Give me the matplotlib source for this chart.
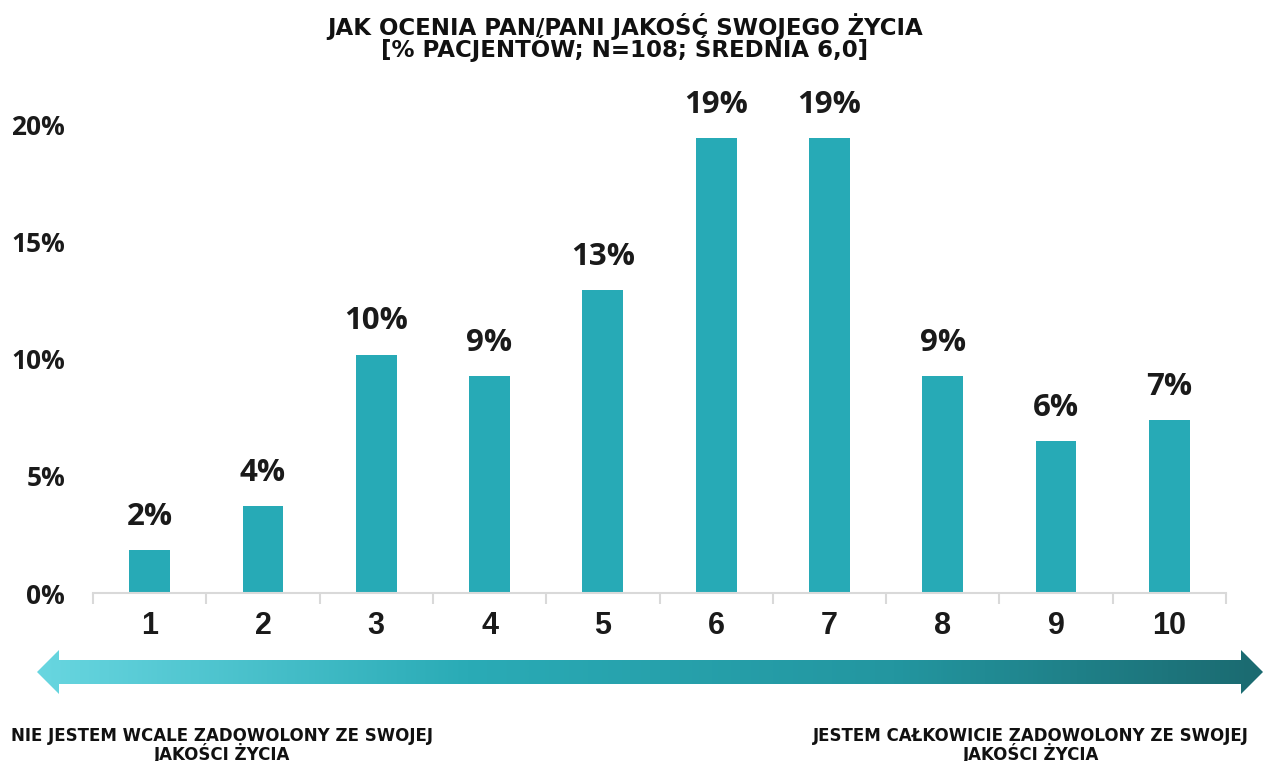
import matplotlib
matplotlib.use("Agg")
import matplotlib.pyplot as plt
import numpy as np
from matplotlib.patches import Polygon
from matplotlib.colors import LinearSegmentedColormap

categories = ["1", "2", "3", "4", "5", "6", "7", "8", "9", "10"]
values = [1.85, 3.70, 10.19, 9.26, 12.96, 19.44, 19.44, 9.26, 6.48, 7.41]
labels = ["2%", "4%", "10%", "9%", "13%", "19%", "19%", "9%", "6%", "7%"]
yticks = [0, 5, 10, 15, 20]
ytick_labels = ["0%", "5%", "10%", "15%", "20%"]
title_lines = ["JAK OCENIA PAN/PANI JAKOŚĆ SWOJEGO ŻYCIA", "[% PACJENTÓW; N=108; ŚREDNIA 6,0]"]
left_note = ["NIE JESTEM WCALE ZADOWOLONY ZE SWOJEJ", "JAKOŚCI ŻYCIA"]
right_note = ["JESTEM CAŁKOWICIE ZADOWOLONY ZE SWOJEJ", "JAKOŚCI ŻYCIA"]

BAR = "#27AAB6"
W, H = 1264, 761
fig = plt.figure(figsize=(W / 100, H / 100), dpi=100)

def fx(px):
    return px / W

def fy(py):
    return 1 - py / H

NUMFONT = "Open Sans"
HEADFONT = "DejaVu Sans"

ax = fig.add_axes([fx(93), fy(593), fx(1226 - 93), fy(125) - fy(593)])
x = np.arange(len(categories))
ax.bar(x, values, width=0.36, color=BAR, zorder=2)
for xi, v, lab in zip(x, values, labels):
    ax.annotate(lab, (xi, v), xytext=(0, 13), textcoords="offset points",
                ha="center", va="bottom", fontsize=22.5, fontweight="bold",
                family=NUMFONT, color="#1a1a1a", annotation_clip=False)
ax.set_xlim(-0.5, len(categories) - 0.5)
ax.set_ylim(0, 20)
ax.set_yticks(yticks)
ax.set_yticklabels(ytick_labels, fontsize=19, fontweight="bold", family=NUMFONT, color="#1a1a1a")
ax.set_xticks(x)
ax.set_xticklabels(categories, fontsize=22, fontweight="bold", family="Liberation Sans", color="#1a1a1a")
ax.tick_params(axis="y", length=0, pad=20)
ax.tick_params(axis="x", which="major", length=0, pad=13)
ax.set_xticks(np.arange(-0.5, len(categories), 1), minor=True)
ax.tick_params(axis="x", which="minor", length=8, width=1.5, color="#D9D9D9", direction="out")
for s in ["top", "right", "left"]:
    ax.spines[s].set_visible(False)
ax.spines["bottom"].set_color("#D9D9D9")
ax.spines["bottom"].set_linewidth(1.5)

for line, yy in zip(title_lines, [24.5, 46.5]):
    fig.text(fx(625), fy(yy), line, ha="center", va="center_baseline", fontsize=16.5,
             fontweight="bold", family=HEADFONT, color="#111111")

# gradient arrow
aax = fig.add_axes([fx(37), fy(694), fx(1263 - 37), fy(650) - fy(694)])
aax.set_xlim(0, 1)
aax.set_ylim(0, 1)
aax.axis("off")
cmap = LinearSegmentedColormap.from_list("arr", [(0, "#68D6E0"), (0.35, "#2AABB6"), (0.7, "#2396A0"), (1, "#1B6A70")])
grad = np.linspace(0, 1, 512).reshape(1, -1)
im = aax.imshow(grad, extent=[0, 1, 0, 1], aspect="auto", cmap=cmap, origin="lower")
hw = 22 / (1263 - 37)
sh0, sh1 = 10 / 44, 34 / 44
poly = Polygon([(0, 0.5), (hw, 1.0), (hw, sh1), (1 - hw, sh1), (1 - hw, 1.0), (1, 0.5),
                (1 - hw, 0.0), (1 - hw, sh0), (hw, sh0), (hw, 0.0)], closed=True,
               transform=aax.transData, facecolor="none", edgecolor="none")
aax.add_patch(poly)
im.set_clip_path(poly)

for note, cx in [(left_note, 222), (right_note, 1031)]:
    for line, yy in zip(note, [734, 751]):
        fig.text(fx(cx), fy(yy), line, ha="center", va="center_baseline", fontsize=12,
                 fontweight="bold", family=HEADFONT, color="#111111")

fig.savefig("out.png", dpi=100, facecolor="white")
